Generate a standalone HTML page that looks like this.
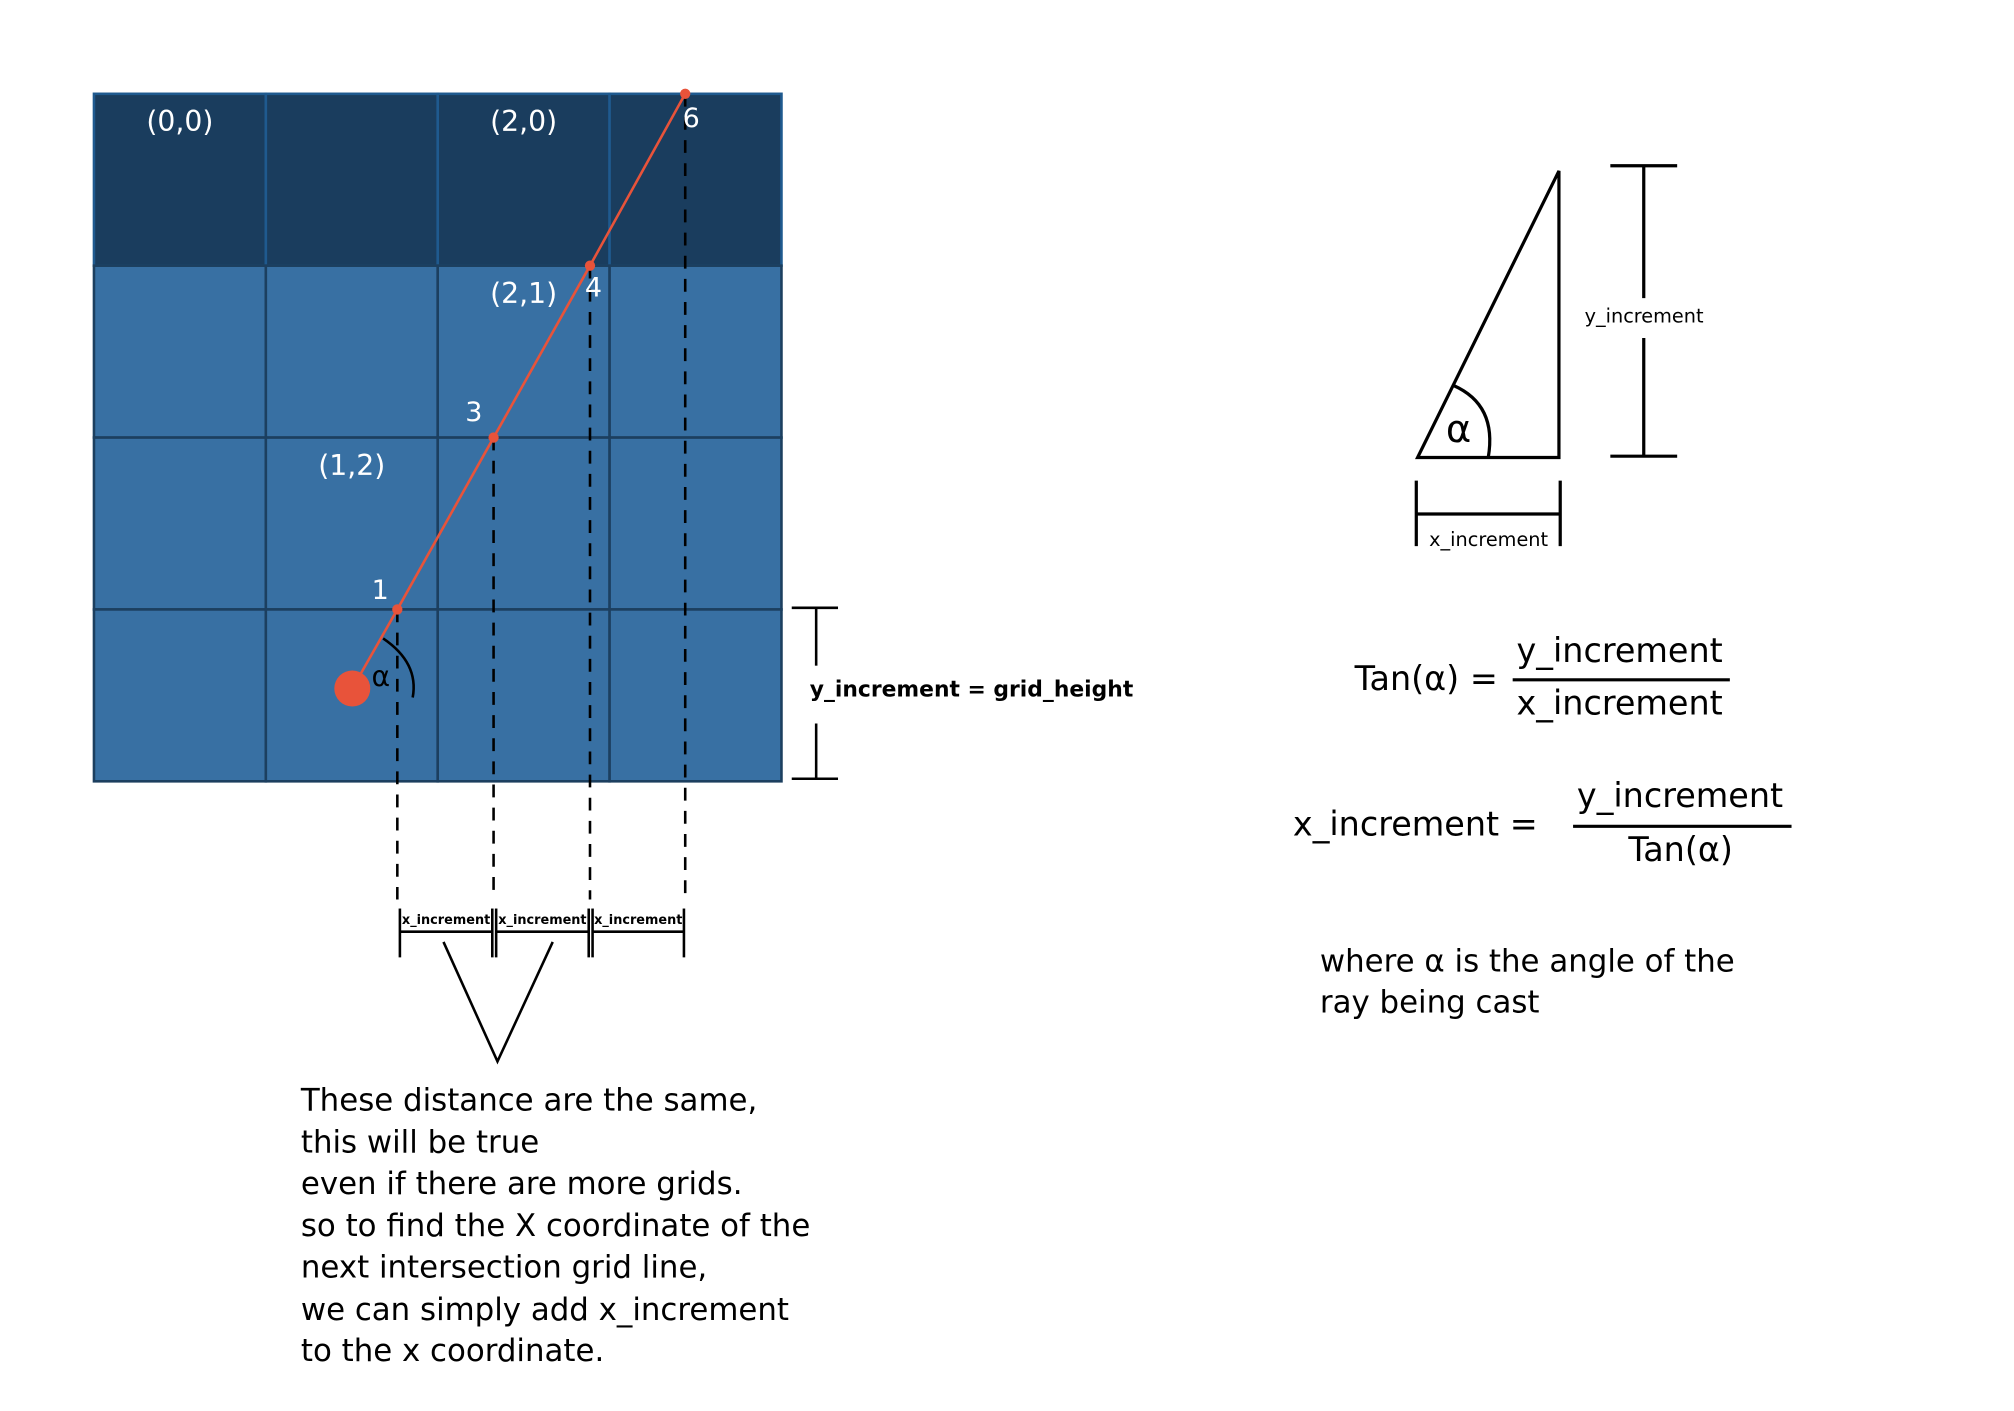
<!DOCTYPE html>
<html><head><meta charset="utf-8"><style>
html,body{margin:0;padding:0;background:#fff;}
svg{display:block;font-family:"DejaVu Sans","Liberation Sans",sans-serif;}
</style></head><body>
<svg id="chart" width="2014" height="1411" viewBox="0 0 1567 1098" xmlns="http://www.w3.org/2000/svg">
<g id="grid"></g>
<g id="ray"></g>
<g stroke="#000" stroke-width="2">
<line x1="616" y1="473" x2="652" y2="473"/><line x1="616" y1="606" x2="652" y2="606"/>
<line x1="635" y1="473" x2="635" y2="518"/><line x1="635" y1="563" x2="635" y2="606"/>
</g>
<text x="630" y="542" font-size="17" font-weight="bold">y_increment =  grid_height</text>
<g id="xinc"></g>
<g stroke="#000" stroke-width="2" fill="none"><polyline points="345,733 387,826 430,733"/></g>
<text font-size="24" fill="#000">
<tspan x="234" y="864">These distance are the same,</tspan>
<tspan x="234" y="897">this will be true</tspan>
<tspan x="234" y="929">even if there are more grids.</tspan>
<tspan x="234" y="962">so to find the X coordinate of the</tspan>
<tspan x="234" y="994">next intersection grid line,</tspan>
<tspan x="234" y="1027">we can simply add x_increment</tspan>
<tspan x="234" y="1059">to the x coordinate.</tspan>
</text>
<g stroke="#000" stroke-width="2.5" fill="none">
<polygon points="1103,356 1213,356 1213,133"/>
<path d="M1131,300 Q1165,315 1158,356"/>
<line x1="1253" y1="129" x2="1305" y2="129"/><line x1="1253" y1="355" x2="1305" y2="355"/>
<line x1="1279" y1="129" x2="1279" y2="232"/><line x1="1279" y1="263" x2="1279" y2="355"/>
<line x1="1102" y1="374" x2="1102" y2="425"/><line x1="1214" y1="374" x2="1214" y2="425"/>
<line x1="1102" y1="400" x2="1214" y2="400"/>
</g>
<text x="1125" y="344" font-size="30">α</text>
<text x="1233" y="251" font-size="15">y_increment</text>
<text x="1112" y="425" font-size="15">x_increment</text>
<g font-size="26">
<text x="1054" y="537">Tan(α) =</text>
<text x="1180" y="515">y_increment</text>
<line x1="1177" y1="529" x2="1346" y2="529" stroke="#000" stroke-width="2.5"/>
<text x="1180" y="556">x_increment</text>
</g>
<g font-size="26">
<text x="1006" y="650">x_increment  =</text>
<text x="1227" y="628">y_increment</text>
<line x1="1224" y1="643" x2="1394" y2="643" stroke="#000" stroke-width="2.5"/>
<text x="1267" y="670">Tan(α)</text>
</g>
<text font-size="24"><tspan x="1027" y="756">where α is the angle of the</tspan><tspan x="1027" y="788">ray being cast</tspan></text>
</svg>
<script>
const NS="http://www.w3.org/2000/svg";
const gridCols=[0,1,2,3];
const gridRows=[0,1,2,3];
const cellLabels=[["(0,0)",0,0],["(2,0)",2,0],["(2,1)",2,1],["(1,2)",1,2]];
const rayFractions=[[1.765,3.0],[2.325,2.0],[2.886,1.0],[3.44,0.0]];
const rayNames=["1","3","4","6"];
const origin=[1.503,3.46];
const X0=73,Y0=73,CELL=133.75;
function sx(v){return X0+v*CELL;}
function sy(v){return Y0+v*CELL;}
function mk(t,a,p){const e=document.createElementNS(NS,t);for(const k in a)e.setAttribute(k,a[k]);p.appendChild(e);return e;}
const grid=document.getElementById('grid');
gridRows.forEach(r=>gridCols.forEach(c=>{
 const e=mk('rect',{x:sx(c),y:sy(r),width:CELL,height:CELL,fill:r===0?'#1a3d5e':'#3870a3',stroke:r===0?'#1f5a8f':'#1c3f5f','stroke-width':2},grid);
 
 
}));
cellLabels.forEach(l=>{
 const t=mk('text',{x:sx(l[1]+0.5),y:sy(l[2])+29,'text-anchor':'middle','font-size':22,fill:'#fff'},grid);
 t.textContent=l[0];
 
 
});
const ray=document.getElementById('ray');
rayFractions.forEach(p=>{
 const d=mk('line',{x1:sx(p[0]),y1:sy(p[1]),x2:sx(p[0]),y2:700,stroke:'#000','stroke-width':2,'stroke-dasharray':'10,8'},ray);
 
 
});
const pts=[origin].concat(rayFractions);
const pl=mk('polyline',{points:pts.map(p=>sx(p[0])+','+sy(p[1])).join(' '),fill:'none',stroke:'#e8533a','stroke-width':2},ray);


const oc=mk('circle',{cx:sx(origin[0]),cy:sy(origin[1]),r:14,fill:'#e8533a'},ray);


const arc=mk('path',{d:`M${sx(origin[0])+24},${sy(origin[1])-39} Q${sx(origin[0])+52},${sy(origin[1])-20} ${sx(origin[0])+47},${sy(origin[1])+7}`,fill:'none',stroke:'#000','stroke-width':2},ray);


const al=mk('text',{x:sx(origin[0])+15,y:sy(origin[1])-2,'font-size':22},ray);
al.textContent='α';


rayFractions.forEach((p,i)=>{
 const c=mk('circle',{cx:sx(p[0]),cy:sy(p[1]),r:4,fill:'#e8533a'},ray);
 
 
 const off=[[-20,-8],[-22,-13],[-4,24],[-2,26]][i];
 const t=mk('text',{x:sx(p[0])+off[0],y:sy(p[1])+off[1],'font-size':21,fill:'#fff'},ray);
 t.textContent=rayNames[i];
 
 
});
const xi=document.getElementById('xinc');
for(let i=0;i<rayFractions.length-1;i++){
 const a=sx(rayFractions[i][0])+2,b=sx(rayFractions[i+1][0])-1;
 mk('line',{x1:a,y1:707,x2:a,y2:745,stroke:'#000','stroke-width':2},xi);
 mk('line',{x1:b,y1:707,x2:b,y2:745,stroke:'#000','stroke-width':2},xi);
 mk('line',{x1:a,y1:725,x2:b,y2:725,stroke:'#000','stroke-width':2},xi);
 const t=mk('text',{x:(a+b)/2,y:719,'text-anchor':'middle','font-size':10,'font-weight':'bold'},xi);
 t.textContent='x_increment';
 
 
}
</script>
</body></html>
